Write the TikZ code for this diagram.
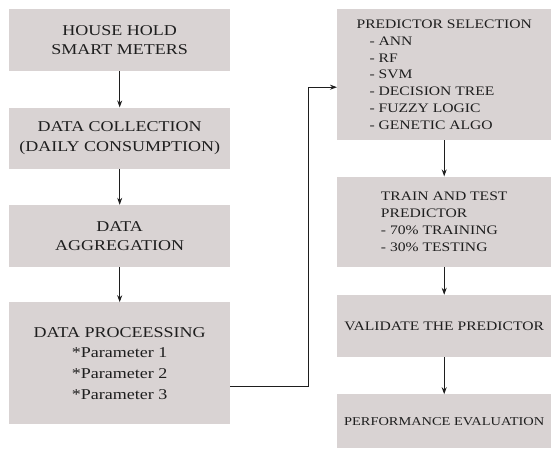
\documentclass[tikz,border=0pt]{standalone}
\usepackage{fontspec}
\setmainfont{Liberation Serif}[FakeStretch=1.2]
\usepackage{tikz}
\usetikzlibrary{arrows.meta,positioning}
\definecolor{FlowFill}{HTML}{D9D3D3}
\definecolor{FlowInk}{HTML}{1E1E1E}

\begin{document}
\begin{tikzpicture}[
  node distance=36pt,
  leftbox/.style={fill=FlowFill,text=FlowInk,minimum width=221pt,inner sep=0pt,align=center,
    font=\fontsize{15pt}{19.5pt}\selectfont},
  rightbox/.style={fill=FlowFill,text=FlowInk,minimum width=214pt,inner sep=0pt,align=left,
    font=\fontsize{13pt}{16.8pt}\selectfont},
  flow/.style={draw=FlowInk,line width=0.9pt,-{Stealth[length=7pt,width=5pt]}},
]
\useasboundingbox (0,0) rectangle (551pt,-450pt);
% left column
\node[leftbox,minimum height=62pt,anchor=north west] (meters) at (9pt,-9pt) {HOUSE HOLD\\SMART METERS};
\node[leftbox,minimum height=61pt,below=of meters] (collect) {DATA COLLECTION\\(DAILY CONSUMPTION)};
\node[leftbox,minimum height=62pt,below=of collect] (aggr) {DATA\\AGGREGATION};
\node[leftbox,minimum height=122pt,below=35pt of aggr,font=\fontsize{15pt}{20.7pt}\selectfont] (proc) {DATA PROCEESSING\\*Parameter 1\\*Parameter 2\\*Parameter 3};
% right column
\node[rightbox,minimum height=131pt,anchor=north west] (select) at (337pt,-9pt) {PREDICTOR SELECTION\\
  \hspace{1em}- ANN\\ \hspace{1em}- RF\\ \hspace{1em}- SVM\\ \hspace{1em}- DECISION TREE\\
  \hspace{1em}- FUZZY LOGIC\\ \hspace{1em}- GENETIC ALGO};
\node[rightbox,minimum height=90pt,below=of select] (train) {TRAIN AND TEST\\PREDICTOR\\- 70\% TRAINING\\- 30\% TESTING\hspace{10pt}};
\node[rightbox,minimum height=62pt,below=28pt of train] (valid) {VALIDATE THE PREDICTOR};
\node[rightbox,minimum height=54pt,below=37pt of valid,font=\fontsize{12pt}{16pt}\selectfont] (perf) {PERFORMANCE EVALUATION};
% connectors
\draw[flow] (meters) -- (collect);
\draw[flow] (collect) -- (aggr);
\draw[flow] (aggr) -- (proc);
\draw[flow] ([yshift=-23pt]proc.east) -- ++(78pt,0) |- ([yshift=-12.5pt]select.west);
\draw[flow] (select) -- (train);
\draw[flow] (train) -- (valid);
\draw[flow] (valid) -- (perf);
\end{tikzpicture}
\end{document}
